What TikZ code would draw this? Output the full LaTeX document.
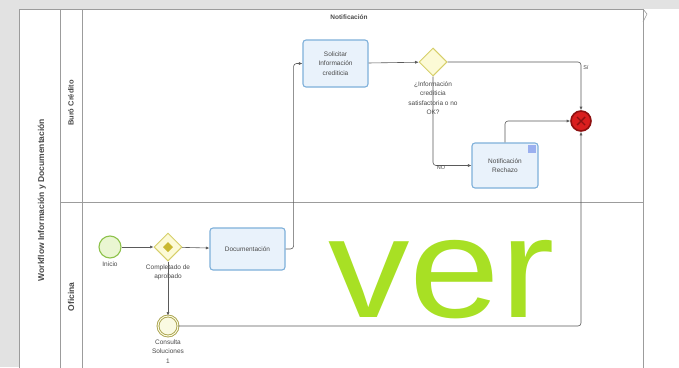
\documentclass[tikz,border=0pt]{standalone}
\usepackage{fontspec}
\setmainfont{Liberation Sans}
\usetikzlibrary{shapes.geometric,arrows.meta,calc}
\definecolor{bggray}{HTML}{E2E2E2}
\definecolor{poolline}{HTML}{9C9C9C}
\definecolor{taskfill}{HTML}{E9F2FB}
\definecolor{taskline}{HTML}{7EB0DA}
\definecolor{gwfill}{HTML}{FCFAD6}
\definecolor{gwline}{HTML}{D6CF6A}
\definecolor{gwmark}{HTML}{C9B830}
\definecolor{stfill}{HTML}{EAF6D2}
\definecolor{stline}{HTML}{8DC24A}
\definecolor{midfill}{HTML}{FAFAE2}
\definecolor{midline}{HTML}{A9A24C}
\definecolor{endfill}{HTML}{D91E1E}
\definecolor{endline}{HTML}{8E1010}
\definecolor{flowc}{HTML}{5A5A5A}
\definecolor{txtc}{HTML}{4A4A4A}
\definecolor{verc}{HTML}{A8E024}
\tikzset{
  tinytxt/.style={font=\fontsize{6.5}{9.5}\selectfont, text=txtc, align=center},
  taskbox/.style={draw=taskline, line width=1.1pt, fill=taskfill, rounded corners=3pt,
    inner sep=1pt, tinytxt},
  gw/.style={diamond, aspect=1, draw=gwline, line width=1pt, fill=gwfill,
    minimum width=28pt, minimum height=28pt, inner sep=0pt},
  startev/.style={circle, draw=stline, line width=1.1pt, fill=stfill, minimum size=22pt, inner sep=0pt},
  midev/.style={circle, draw=midline, line width=0.9pt, double=midfill, double distance=1pt,
    fill=midfill, minimum size=20pt, inner sep=0pt},
  endev/.style={circle, draw=endline, line width=1.6pt, fill=endfill, minimum size=20pt, inner sep=0pt},
  flow/.style={draw=flowc, line width=0.6pt, -{Latex[length=3.5pt,width=3pt]}, rounded corners=3pt},
  lbl/.style={tinytxt, anchor=north, inner sep=1pt},
  poolln/.style={draw=poolline, line width=0.8pt},
  lanetxt/.style={font=\fontsize{7.5}{7.5}\selectfont\bfseries, text=txtc, rotate=90},
}
\begin{document}
\begin{tikzpicture}[x=1pt,y=-1pt]
\useasboundingbox (0,0) rectangle (679,367);
% background
\fill[bggray] (0,0) rectangle (679,367);
\fill[white] (19,9) rectangle (679,367);
% pool and lanes
\draw[poolln] (19,370) -- (19,9) -- (643,9) -- (643,370);
\draw[poolln] (60,9) -- (60,370);
\draw[poolln] (82,9) -- (82,370);
\draw[poolln] (60,202) -- (643,202);
\draw[poolln, line width=0.6pt] (643,9) -- (647,14) -- (643,22);
\node[font=\fontsize{6.5}{6.5}\selectfont\bfseries, text=txtc] (title) at (349,17) {Notificación};
\node[lanetxt, font=\fontsize{8.5}{8.5}\selectfont\bfseries] (pooltxt) at (42,200) {Workflow Información y Documentación};
\node[lanetxt] (lane1) at (71,103) {Buró Crédito};
\node[lanetxt, font=\fontsize{8.5}{8.5}\selectfont\bfseries] (lane2) at (71,297) {Oficina};
% watermark text
\node[anchor=base west, inner sep=0pt, text=verc, font=\fontsize{163}{163}\selectfont] (ver) at (328,317) {\scalebox{1}[0.88]{ver}};
% nodes
\node[startev] (start) at (110,247) {};
\node[lbl] (startl) at ($(start.south)+(0,2)$) {Inicio};
\node[gw] (g1) at (168,247) {};
\fill[gwmark] ($(g1)+(-5,0)$) -- ($(g1)+(0,-5)$) -- ($(g1)+(5,0)$) -- ($(g1)+(0,5)$) -- cycle;
\node[lbl] (g1l) at ($(g1.south)+(0,2)$) {Completado de\\ aprobado};
\node[taskbox, minimum width=75pt, minimum height=42pt] (doc) at (247.5,249) {Documentación};
\node[taskbox, minimum width=65pt, minimum height=47pt] (sol) at (335.5,63.5) {Solicitar\\ Información\\ crediticia};
\node[gw] (g2) at (433,62) {};
\node[lbl] (g2l) at ($(g2.south)+(0,4)$) {¿Información\\ crediticia\\ satisfactoria o no\\ OK?};
\node[taskbox, minimum width=66pt, minimum height=45pt] (rech) at (505,165.5) {Notificación\\ Rechazo};
\fill[taskline!70!blue!60] ($(rech.north east)+(-11,3)$) rectangle ($(rech.north east)+(-3,11)$);
\node[midev] (mid) at (168,326) {};
\node[lbl] (midl) at ($(mid.south)+(0,2)$) {Consulta\\ Soluciones\\ 1};
\node[endev] (end) at (581,121) {};
\draw[endline, line width=1.4pt] ($(end)+(-4,-4)$) -- ($(end)+(4,4)$) ($(end)+(-4,4)$) -- ($(end)+(4,-4)$);
% flows
\draw[flow] (start) -- (g1);
\draw[flow] (g1) -- (doc);
\draw[flow] (g1) -- (mid);
\draw[flow] (doc.east) -- ++(8,0) |- (sol.west);
\draw[flow] (sol) -- (g2);
\draw[flow] (g2.east) -| (end.north);
\node[tinytxt, font=\fontsize{5.5}{5.5}\selectfont] (si) at (586,68) {Sí};
\draw[flow] (g2.south) |- (rech.west);
\node[tinytxt, font=\fontsize{5.5}{5.5}\selectfont] (no) at (441,168) {NO};
\draw[flow] (rech.north) |- (end.west);
\draw[flow] (mid.east) -| (end.south);
\end{tikzpicture}
\end{document}
